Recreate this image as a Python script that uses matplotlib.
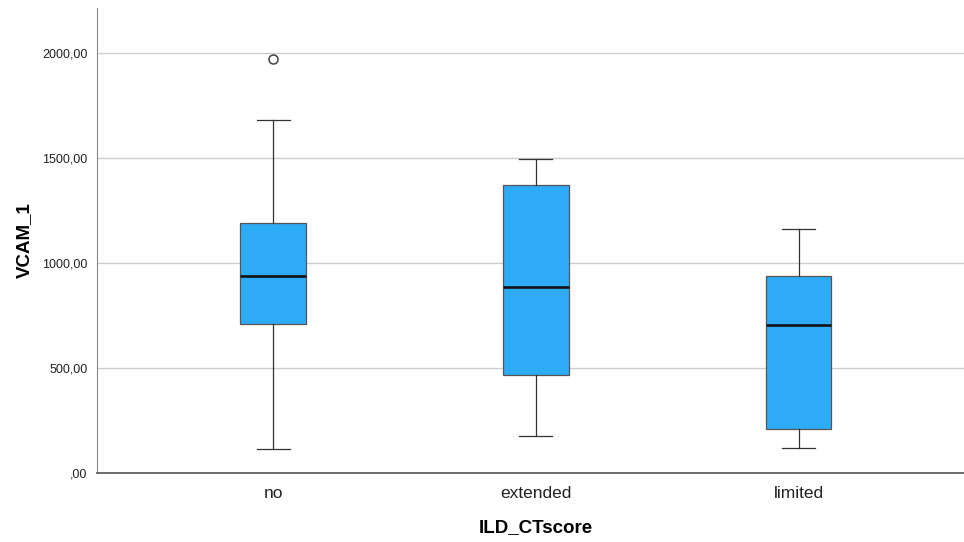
import matplotlib
matplotlib.use("Agg")
import matplotlib.pyplot as plt

plt.rcParams['font.family'] = ['Liberation Sans', 'DejaVu Sans']

# values
groups = ['no', 'extended', 'limited']
whisker_low = [113, 178, 122]
q1 = [709, 467, 211]
median = [938, 886, 703]
q3 = [1193, 1373, 940]
whisker_high = [1681, 1495, 1160]
outliers = [[1973], [], []]

stats = []
for i, name in enumerate(groups):
    stats.append({
        'label': name,
        'whislo': whisker_low[i],
        'q1': q1[i],
        'med': median[i],
        'q3': q3[i],
        'whishi': whisker_high[i],
        'fliers': outliers[i],
    })

fig = plt.figure(figsize=(9.64, 5.42), dpi=100)
ax = fig.add_axes([0.101, 0.127, 0.899, 0.859])

ax.bxp(stats, positions=range(len(groups)), widths=0.251,
       patch_artist=True, showfliers=True,
       boxprops=dict(facecolor='#2eabf7', edgecolor='#555555', linewidth=0.9),
       medianprops=dict(color='#111111', linewidth=1.9),
       whiskerprops=dict(color='#333333', linewidth=0.9),
       capprops=dict(color='#333333', linewidth=0.9),
       capwidths=0.126,
       flierprops=dict(marker='o', markersize=6.5, markerfacecolor='white',
                       markeredgecolor='#444444', markeredgewidth=1.1))

ax.set_xlim(-0.669, 2.63)
ax.set_ylim(0, 2216)
ax.set_yticks([0, 500, 1000, 1500, 2000])
ax.set_yticklabels([',00', '500,00', '1000,00', '1500,00', '2000,00'])
ax.yaxis.grid(True, color='#cccccc', linewidth=1.0)
ax.set_axisbelow(True)

ax.tick_params(axis='y', length=0, pad=7, labelsize=9, labelcolor='#222222')
ax.tick_params(axis='x', length=0, pad=9, labelsize=12.5, labelcolor='#222222')

for s in ['top', 'right']:
    ax.spines[s].set_visible(False)
ax.spines['left'].set_color('#888888')
ax.spines['bottom'].set_color('#555555')
ax.spines['bottom'].set_linewidth(1.2)

ax.set_xlabel('ILD_CTscore', fontsize=13.5, fontweight='bold')
ax.xaxis.set_label_coords(0.506, -0.098)
ax.set_ylabel('VCAM_1', fontsize=13.5, fontweight='bold', labelpad=7)

fig.savefig('out.png', dpi=100)
